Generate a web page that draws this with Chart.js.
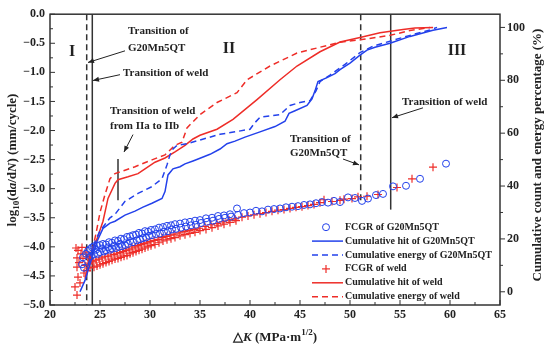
<!DOCTYPE html>
<html>
<head>
<meta charset="UTF-8">
<title>FCGR and cumulative AE</title>
<script src="https://cdn.jsdelivr.net/npm/chart.js@4.4.0/dist/chart.umd.min.js"></script>
<style>
body{margin:0;background:#fff;}
#wrap{width:550px;height:352px;}
</style>
</head>
<body>
<div id="wrap"><canvas id="c" width="550" height="352"></canvas></div>
<script>
// ===== DATA =====
const FONT = '"Liberation Serif", "Times New Roman", serif';
const BLUE = 'rgb(35,65,235)';
const RED = 'rgb(238,45,40)';

const xTicks = [20,25,30,35,40,45,50,55,60,65];
const yTicks = [-5,-4.5,-4,-3.5,-3,-2.5,-2,-1.5,-1,-0.5,0];
const y2Ticks = [0,20,40,60,80,100];

// FCGR of G20Mn5QT (dK, log10 da/dN)
const g20K = [23.2,23.3,23.4,23.6,23.8,24.0,24.1,24.2,24.4,24.4,24.6,24.7,24.8,25.0,25.0,25.2,25.3,25.4,25.6,25.6,25.8,25.9,26.0,26.2,26.2,26.4,26.5,26.6,26.8,26.9,27.0,27.1,27.2,27.4,27.5,27.7,27.8,28.0,28.0,28.3,28.3,28.6,28.7,28.9,29.0,29.2,29.3,29.5,29.6,29.8,29.9,30.1,30.2,30.5,30.6,30.9,31.0,31.3,31.4,31.7,31.8,32.1,32.2,32.5,32.6,33.0,33.1,33.5,33.6,34.0,34.1,34.5,34.6,35.0,35.1,35.6,35.7,36.2,36.3,36.8,36.9,37.4,37.5,38.0,38.1,38.7,38.8,39.4,40.0,40.6,41.2,41.8,42.4,43.0,43.6,44.2,44.8,45.4,46.0,46.6,47.2,47.8,48.4,49.0,49.8,50.5,51.2,51.8,52.6,53.3,54.3,55.6,57.0,59.6];
const g20Log = [-4.30,-4.18,-4.36,-4.12,-4.07,-4.04,-4.16,-4.01,-3.99,-4.13,-4.05,-3.98,-4.12,-3.97,-4.09,-4.03,-3.95,-4.08,-3.96,-4.06,-4.01,-3.92,-4.05,-3.93,-4.03,-3.98,-3.89,-4.02,-3.90,-4.00,-3.95,-3.86,-3.99,-3.87,-3.97,-3.83,-3.95,-3.82,-3.90,-3.80,-3.92,-3.79,-3.89,-3.76,-3.87,-3.77,-3.85,-3.73,-3.84,-3.74,-3.81,-3.71,-3.80,-3.70,-3.78,-3.67,-3.77,-3.66,-3.74,-3.64,-3.73,-3.63,-3.70,-3.61,-3.69,-3.60,-3.67,-3.58,-3.65,-3.57,-3.63,-3.55,-3.62,-3.54,-3.59,-3.51,-3.57,-3.50,-3.55,-3.47,-3.52,-3.46,-3.50,-3.44,-3.48,-3.34,-3.45,-3.42,-3.41,-3.38,-3.39,-3.36,-3.35,-3.34,-3.32,-3.31,-3.30,-3.28,-3.27,-3.25,-3.23,-3.24,-3.21,-3.23,-3.15,-3.16,-3.21,-3.17,-3.11,-3.09,-2.96,-2.95,-2.83,-2.57];

// FCGR of weld
const weldK = [22.5,22.6,22.7,22.7,22.7,22.8,22.8,22.9,23.0,23.1,23.2,23.3,23.4,23.5,23.6,23.7,23.8,23.9,24.0,24.1,24.3,24.4,24.6,24.7,24.9,25.0,25.2,25.3,25.5,25.6,25.8,25.9,26.1,26.2,26.4,26.5,26.7,26.8,27.0,27.1,27.3,27.4,27.6,27.7,27.9,28.0,28.2,28.3,28.5,28.6,28.8,28.9,29.1,29.2,29.4,29.5,29.7,29.8,30.0,30.1,30.4,30.5,30.8,30.9,31.2,31.3,31.6,31.7,32.0,32.1,32.4,32.5,32.9,33.0,33.4,33.5,33.9,34.0,34.4,34.5,34.9,35.0,35.5,35.6,36.1,36.2,36.7,36.8,37.3,37.4,37.9,38.0,38.5,38.6,39.2,39.8,40.4,41.0,41.6,42.2,42.8,43.4,44.0,44.6,45.2,45.8,46.4,47.0,47.4,48.2,49.0,49.4,50.2,50.8,51.7,52.8,54.7,56.2,58.3];
const weldLog = [-4.69,-4.02,-4.83,-4.35,-4.19,-4.52,-4.06,-4.27,-4.62,-4.12,-4.01,-4.20,-4.45,-4.32,-4.09,-4.41,-4.17,-4.28,-4.36,-4.24,-4.26,-4.35,-4.23,-4.33,-4.21,-4.31,-4.19,-4.29,-4.17,-4.27,-4.16,-4.25,-4.14,-4.23,-4.13,-4.21,-4.11,-4.20,-4.10,-4.18,-4.08,-4.16,-4.06,-4.15,-4.04,-4.12,-4.02,-4.10,-4.00,-4.08,-3.98,-4.06,-3.96,-4.04,-3.94,-4.02,-3.93,-4.00,-3.91,-3.98,-3.89,-3.96,-3.87,-3.93,-3.84,-3.90,-3.82,-3.88,-3.80,-3.86,-3.78,-3.84,-3.76,-3.81,-3.74,-3.79,-3.72,-3.77,-3.70,-3.75,-3.68,-3.72,-3.65,-3.70,-3.62,-3.67,-3.60,-3.64,-3.57,-3.61,-3.54,-3.58,-3.52,-3.55,-3.49,-3.47,-3.45,-3.43,-3.41,-3.39,-3.37,-3.36,-3.34,-3.32,-3.31,-3.29,-3.27,-3.24,-3.19,-3.22,-3.20,-3.18,-3.17,-3.14,-3.13,-3.10,-2.98,-2.83,-2.63];

// cumulative hit / energy (%) of G20Mn5QT
const g20HitK = [23.0,23.5,24.2,24.7,25.3,26.0,26.5,27.5,28.5,29.3,30.2,31.2,31.5,31.8,32.3,33.0,33.5,34.3,35.0,36.0,37.0,37.7,38.5,39.5,41.0,42.5,43.5,43.9,44.5,45.7,46.2,46.5,46.8,47.7,48.5,49.0,50.0,51.0,51.7,52.5,54.0,56.0,58.3,59.7];
const g20Hit = [0,4.3,13,19,24,26,26.7,29,30.5,32,33.5,35.3,37.9,44.2,46.5,47.3,48.4,49.5,50.5,52,54,56,57,58.5,60.5,62.5,64.5,67.5,68.5,70.5,73,76,79.5,81,82.5,84,86.5,89.5,91.4,92.5,94,96.6,98.9,100];
const g20EnK = [23.8,24.5,25.0,26.0,26.5,27.5,28.8,30.2,31.2,31.7,32.0,32.3,32.7,33.7,35.0,37.0,38.5,40.0,40.5,41.0,43.0,44.0,45.0,46.0,46.6,47.0,48.0,49.5,51.0,52.3,54.0,56.0,58.0,58.7];
const g20En = [10,19,23,28,29.3,34.2,37.2,39.8,42.8,48,51.8,54,55.4,56,57.4,59.6,60.5,61.5,64,66,67,70.5,71.6,72.3,76,79.5,82,86,90.5,92.9,94.8,97,99,100];

// cumulative hit / energy (%) of weld
const weldHitK = [23.5,24.0,24.7,25.3,25.8,26.5,26.8,27.8,28.8,29.5,30.5,31.5,32.5,33.5,34.3,35.0,36.7,38.3,40.7,43.0,44.7,47.0,49.0,51.0,53.0,55.3,56.5,58.3];
const weldHit = [5,14,20,26.7,35.3,41,42.4,43.5,44.7,46.5,49,50.6,52.9,55.4,57.8,59.2,61.5,65.2,72.7,80.2,85.4,90.8,94.5,96.2,98,99.2,99.8,100];
const weldEnK = [24.0,24.6,25.0,25.5,26.0,26.5,27.5,28.5,30.2,31.5,32.5,33.2,33.7,35.0,36.7,38.7,39.7,42.0,44.7,47.0,49.0,51.0,54.0,56.0,58.0];
const weldEn = [12,22,30,36.8,42.8,44.7,46,47.3,49.9,51.8,55.4,56.6,62,67,71.6,75.3,80.2,85.4,90.3,92.5,94.4,95.3,97,98.8,100];

// transition lines (dK, from log, to log, dashed)
const transK    = [23.67, 24.23, 51.07, 54.07, 26.8];
const transTop  = [0, 0, 0, 0, -2.49];
const transBot  = [-5, -5, -3.22, -3.36, -3.2];
const transDash = [true, false, true, false, false];

const zip = (a,b) => a.map((v,i)=>({x:v, y:b[i]}));

// ===== DECORATIONS =====
function rich(ctx, parts, x, y, size, align){
    const f = p => (p[1]==='i'?'italic ':'') + 'bold ' + ((p[1]==='sub'||p[1]==='sup') ? Math.round(size*0.7) : size) + 'px ' + FONT;
    let w = 0;
    parts.forEach(p=>{ ctx.font=f(p); w+=ctx.measureText(p[0]).width; });
    let cx = align==='center' ? x-w/2 : x;
    ctx.textAlign='left'; ctx.textBaseline='middle';
    parts.forEach(p=>{
        ctx.font=f(p);
        const dy = p[1]==='sub' ? size*0.32 : p[1]==='sup' ? -size*0.38 : 0;
        ctx.fillText(p[0], cx, y+dy);
        cx += ctx.measureText(p[0]).width;
    });
}

function arrow(ctx, x1,y1,x2,y2){
    ctx.beginPath(); ctx.moveTo(x1,y1); ctx.lineTo(x2,y2); ctx.stroke();
    const a = Math.atan2(y2-y1, x2-x1), L=6, W=2.5;
    ctx.beginPath();
    ctx.moveTo(x2,y2);
    ctx.lineTo(x2-L*Math.cos(a)+W*Math.sin(a), y2-L*Math.sin(a)-W*Math.cos(a));
    ctx.lineTo(x2-L*Math.cos(a)-W*Math.sin(a), y2-L*Math.sin(a)+W*Math.cos(a));
    ctx.closePath(); ctx.fill();
}

const deco = {
    id:'deco',
    beforeDatasetsDraw(chart){
        const {ctx, scales:{x,y}} = chart;
        ctx.save();
        ctx.strokeStyle='#333'; ctx.lineWidth=1.5;
        transK.forEach((k,i)=>{
            ctx.setLineDash(transDash[i] ? [6,4] : []);
            ctx.beginPath();
            ctx.moveTo(x.getPixelForValue(k), y.getPixelForValue(transTop[i]));
            ctx.lineTo(x.getPixelForValue(k), y.getPixelForValue(transBot[i]));
            ctx.stroke();
        });
        ctx.restore();
    },
    afterDraw(chart){
        const {ctx, chartArea:a, scales:{x,y,y2}} = chart;
        ctx.save();
        // frame
        ctx.strokeStyle='#333'; ctx.lineWidth=1.5; ctx.setLineDash([]);
        ctx.strokeRect(a.left, a.top, a.right-a.left, a.bottom-a.top);
        // ticks
        ctx.lineWidth=1;
        const tk = (x1,y1,x2,y2)=>{ ctx.beginPath(); ctx.moveTo(x1,y1); ctx.lineTo(x2,y2); ctx.stroke(); };
        for(let v=20; v<=65; v+=2.5){ const px=x.getPixelForValue(v); tk(px,a.bottom,px,a.bottom-(v%5===0?5:3)); }
        for(let v=-5; v<=0.001; v+=0.25){ const py=y.getPixelForValue(v); tk(a.left,py,a.left+(Math.abs(v*2-Math.round(v*2))<0.01?5:3),py); }
        for(let v=0; v<=100; v+=10){ const py=y2.getPixelForValue(v); tk(a.right,py,a.right+(v%20===0?5:3),py); }

        // annotations
        ctx.fillStyle='#222'; ctx.strokeStyle='#222'; ctx.lineWidth=1;
        const P = (k,l)=>[x.getPixelForValue(k), y.getPixelForValue(l)];
        const txt = (s,k,l)=>{ const p=P(k,l); rich(ctx,[[s,'']],p[0],p[1],11,'left'); };
        const arr = (k1,l1,k2,l2)=>{ const p=P(k1,l1), q=P(k2,l2); arrow(ctx,p[0],p[1],q[0],q[1]); };
        txt('Transition of',27.8,-0.29); txt('G20Mn5QT',27.8,-0.59); arr(27.5,-0.63,23.8,-0.83);
        txt('Transition of weld',27.3,-1.02); arr(27.0,-1.04,24.3,-1.14);
        txt('Transition of weld',26.0,-1.66); txt('from IIa to IIb',26.0,-1.92); arr(28.3,-2.07,27.4,-2.37);
        txt('Transition of',44.0,-2.14); txt('G20Mn5QT',44.0,-2.39); arr(49.3,-2.49,50.9,-2.59);
        txt('Transition of weld',55.2,-1.51); arr(57.3,-1.61,54.2,-1.78);
        // regions
        const reg = (s,k,l)=>{ const p=P(k,l); rich(ctx,[[s,'']],p[0],p[1],16,'center'); };
        reg('I',22.2,-0.64); reg('II',37.9,-0.59); reg('III',60.7,-0.63);

        // legend
        const lx=a.left+262, ly=a.top+213, dy=13.9;
        chart.data.datasets.forEach((ds,i)=>{
            const yy=ly+i*dy;
            ctx.strokeStyle=ds.borderColor;
            if(ds.showLine){
                ctx.lineWidth=1.5; ctx.setLineDash(ds.borderDash||[]);
                tk(lx,yy,lx+31,yy); ctx.setLineDash([]);
            } else if(ds.pointStyle==='circle'){
                ctx.lineWidth=1; ctx.beginPath(); ctx.arc(lx+14,yy,3.5,0,Math.PI*2); ctx.stroke();
            } else {
                ctx.lineWidth=1.2; tk(lx+10,yy,lx+18,yy); tk(lx+14,yy-4,lx+14,yy+4);
            }
            ctx.fillStyle='#222';
            rich(ctx,[[ds.label,'']],lx+33,yy,10,'left');
        });

        // axis titles
        ctx.fillStyle='#222';
        rich(ctx,[['\u25B3',''],['K','i'],[' (MPa\u00B7m',''],['1/2','sup'],[')','']],(a.left+a.right)/2,338,13,'center');
        ctx.save(); ctx.translate(13,160); ctx.rotate(-Math.PI/2);
        rich(ctx,[['log',''],['10','sub'],['(d',''],['a','i'],['/d',''],['N','i'],[') (mm/cycle)','']],0,0,13,'center');
        ctx.restore();
        ctx.save(); ctx.translate(538,155); ctx.rotate(-Math.PI/2);
        rich(ctx,[['Cumulative count and energy percentage (%)','']],0,0,13,'center');
        ctx.restore();
        ctx.restore();
    }
};

const tickFont = {family:FONT, size:12, weight:'bold'};

new Chart(document.getElementById('c'), {
    type:'scatter',
    data:{
        datasets:[
            {label:'FCGR of G20Mn5QT', data:zip(g20K,g20Log), yAxisID:'y', pointStyle:'circle', pointRadius:3.5, borderColor:BLUE, backgroundColor:'rgba(0,0,0,0)', borderWidth:1},
            {label:'Cumulative hit of G20Mn5QT', data:zip(g20HitK,g20Hit), yAxisID:'y2', showLine:true, pointRadius:0, borderColor:BLUE, borderWidth:1.5, tension:0},
            {label:'Cumulative energy of G20Mn5QT', data:zip(g20EnK,g20En), yAxisID:'y2', showLine:true, pointRadius:0, borderColor:BLUE, borderWidth:1.5, borderDash:[6,4], tension:0},
            {label:'FCGR of weld', data:zip(weldK,weldLog), yAxisID:'y', pointStyle:'cross', pointRadius:4, borderColor:RED, backgroundColor:RED, borderWidth:1.2},
            {label:'Cumulative hit of weld', data:zip(weldHitK,weldHit), yAxisID:'y2', showLine:true, pointRadius:0, borderColor:RED, borderWidth:1.5, tension:0},
            {label:'Cumulative energy of weld', data:zip(weldEnK,weldEn), yAxisID:'y2', showLine:true, pointRadius:0, borderColor:RED, borderWidth:1.5, borderDash:[6,4], tension:0}
        ]
    },
    options:{
        responsive:false, animation:false, devicePixelRatio:1,
        layout:{padding:{top:10,left:0,right:0,bottom:0}},
        plugins:{legend:{display:false}, tooltip:{enabled:false}},
        scales:{
            x:{type:'linear', min:20, max:65, grid:{display:false,drawTicks:false}, border:{display:false},
               ticks:{font:tickFont, color:'#222', padding:3, maxRotation:0},
               afterBuildTicks:s=>{ s.ticks=xTicks.map(v=>({value:v})); },
               afterFit:s=>{ s.height=47; }},
            y:{type:'linear', position:'left', min:-5, max:0, grid:{display:false,drawTicks:false}, border:{display:false},
               ticks:{font:tickFont, color:'#222', padding:5, callback:v=>(v<0?'\u2212':'')+Math.abs(v).toFixed(1)},
               afterBuildTicks:s=>{ s.ticks=yTicks.map(v=>({value:v})); },
               afterFit:s=>{ s.width=50; }},
            y2:{type:'linear', position:'right', min:-5, max:105, grid:{display:false,drawTicks:false}, border:{display:false},
               ticks:{font:tickFont, color:'#222', padding:7},
               afterBuildTicks:s=>{ s.ticks=y2Ticks.map(v=>({value:v})); },
               afterFit:s=>{ s.width=50; }}
        }
    },
    plugins:[deco]
});
</script>
</body>
</html>
